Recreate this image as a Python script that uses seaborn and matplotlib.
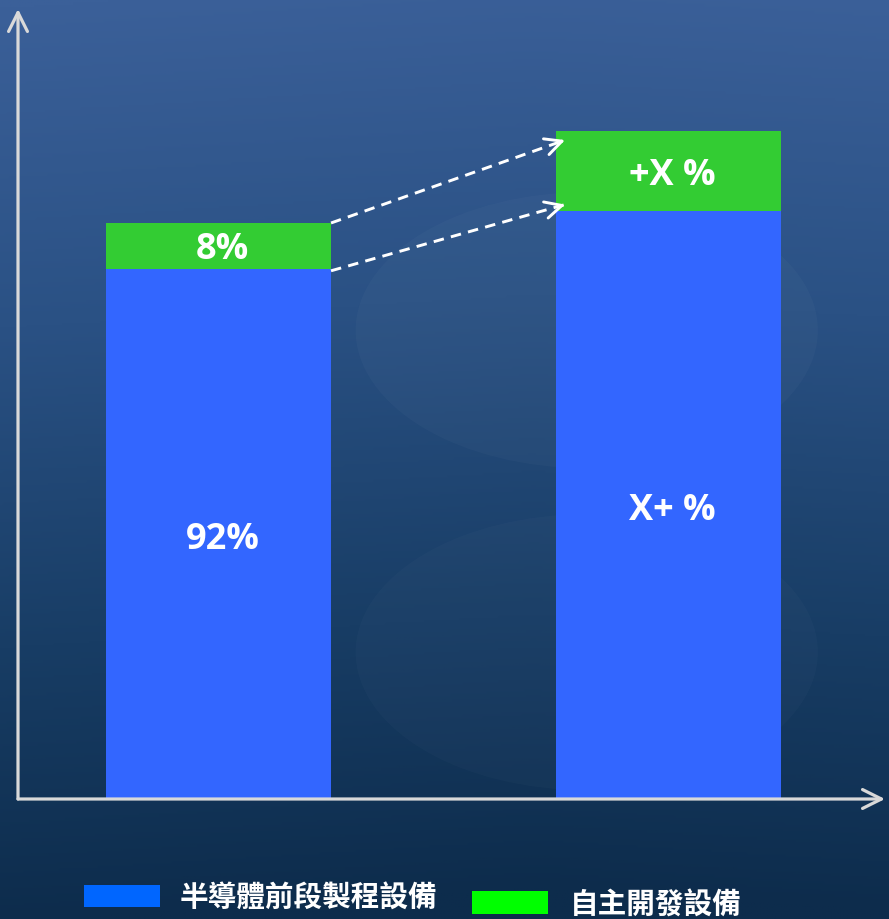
import numpy as np
import pandas as pd
import seaborn as sns
import matplotlib.pyplot as plt
from matplotlib.patches import Rectangle, Ellipse
from matplotlib.colors import LinearSegmentedColormap

# data
stages = ['現在', '未來']
front_end = [92, 102]        # 半導體前段製程設備 (blue part)
in_house = [8, 14]           # 自主開發設備 (green part)
front_labels = ['92%', 'X+ %']
house_labels = ['8%', '+X %']
legend_names = ['半導體前段製程設備', '自主開發設備']

bar_blue = '#3366ff'
bar_green = '#33cc33'
leg_blue = '#0066ff'
leg_green = '#00ff00'
axis_col = '#d9d9d9'

sns.set_theme(style='white')
plt.rcParams['font.family'] = ['Open Sans', 'Noto Sans CJK TC', 'DejaVu Sans']

df = pd.DataFrame({'stage': stages, 'front': front_end, 'house': in_house})
df['total'] = df['front'] + df['house']

fig = plt.figure(figsize=(8.89, 9.2), dpi=100)

# background gradient (dark blue photo-ish), top lighter
bg = fig.add_axes([0, 0, 1, 1], zorder=-10)
cmap = LinearSegmentedColormap.from_list('bg', [(0.0, '#3b6099'), (0.35, '#2a5184'),
                                                (0.7, '#183d65'), (1.0, '#0d2c4c')])
yy = np.linspace(0, 1, 400)[:, None]
xx = np.linspace(0, 1, 300)[None, :]
grad = yy + 0.06 * (0.5 - np.abs(xx - 0.6))
bg.imshow(grad, cmap=cmap, aspect='auto', extent=[0, 1, 0, 1], origin='upper',
          vmin=0, vmax=1)
bg.add_patch(Ellipse((0.66, 0.64), 0.52, 0.30, color='white', alpha=0.025, lw=0))
bg.add_patch(Ellipse((0.66, 0.29), 0.52, 0.30, color='white', alpha=0.02, lw=0))
bg.set_xlim(0, 1)
bg.set_ylim(0, 1)
bg.axis('off')

ax = fig.add_axes([18 / 889, 120 / 920, 867 / 889, 790 / 920])
ax.patch.set_alpha(0)

width = 0.5
sns.barplot(data=df, x='stage', y='total', color=bar_green, saturation=1,
            width=width, ax=ax, edgecolor='none', linewidth=0)
sns.barplot(data=df, x='stage', y='front', color=bar_blue, saturation=1,
            width=width, ax=ax, edgecolor='none', linewidth=0)

ax.set_xlim(-0.4456, 1.481)
ax.set_ylim(0, 137.15)
for s in ax.spines.values():
    s.set_visible(False)
ax.set_xticks([])
ax.set_yticks([])
ax.set_xlabel('')
ax.set_ylabel('')

# value labels
for i in range(len(stages)):
    ax.text(i + 0.009, front_end[i] / 2 - 0.8, front_labels[i], ha='center',
            va='center', color='white', fontsize=26, fontweight='bold')
    ax.text(i + 0.009, front_end[i] + in_house[i] / 2 - 0.6, house_labels[i],
            ha='center', va='center', color='white', fontsize=26, fontweight='bold')

# axis arrows
arrow_kw = dict(arrowstyle='->', color=axis_col, lw=2.3, mutation_scale=34,
                shrinkA=0, shrinkB=0)
ax.annotate('', xy=(0, 1), xytext=(0, 0), xycoords='axes fraction', arrowprops=arrow_kw)
ax.annotate('', xy=(1, 0), xytext=(0, 0), xycoords='axes fraction', arrowprops=arrow_kw)

# dashed growth arrows from left bar to right bar
x0 = 0 + width / 2
x1 = 1 - width / 2 + 0.02
starts = [df['total'][0], df['front'][0] - 0.3]
ends = [df['total'][1] - 1.6, df['front'][1] + 1.2]
for ys, ye in zip(starts, ends):
    ax.plot([x0, x1], [ys, ye], color='white', lw=2.1, linestyle=(0, (3.6, 2.5)),
            solid_capstyle='butt')
    ax.annotate('', xy=(x1, ye), xytext=(x1 - 0.01, ye - 0.01 * (ye - ys) / (x1 - x0)),
                arrowprops=dict(arrowstyle='->', color='white', lw=2.1,
                                mutation_scale=30, shrinkA=0, shrinkB=0))

# legend
fig.add_artist(Rectangle((84 / 889, 1 - 908 / 920), 76 / 889, 22 / 920,
                         transform=fig.transFigure, color=leg_blue, lw=0))
fig.text(180 / 889, 1 - 898 / 920, legend_names[0], ha='left', va='center',
         color='white', fontsize=20.6, fontweight='bold', family='Noto Sans CJK TC')
fig.add_artist(Rectangle((472 / 889, 1 - 915 / 920), 76 / 889, 23 / 920,
                         transform=fig.transFigure, color=leg_green, lw=0))
fig.text(570 / 889, 1 - 905 / 920, legend_names[1], ha='left', va='center',
         color='white', fontsize=20.6, fontweight='bold', family='Noto Sans CJK TC')

fig.savefig('out.png', dpi=100)
